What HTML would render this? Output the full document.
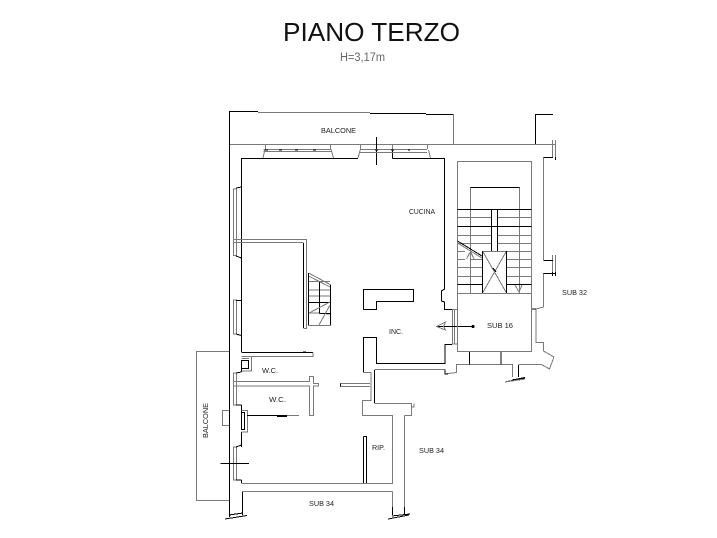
<!DOCTYPE html>
<html><head><meta charset="utf-8"><style>
html,body{margin:0;padding:0;background:#fff;width:717px;height:538px;overflow:hidden}
svg{display:block}
.g{stroke:#7a7a7a;stroke-width:1;fill:none}
.k{stroke:#000;stroke-width:1;fill:none}
text{font-family:"Liberation Sans",sans-serif;fill:#222;font-size:7.5px}
</style></head><body>
<svg width="717" height="538" viewBox="0 0 717 538" xmlns="http://www.w3.org/2000/svg" shape-rendering="crispEdges">
<text x="283" y="41" style="font-size:25.5px;fill:#111" textLength="177" lengthAdjust="spacingAndGlyphs">PIANO TERZO</text>
<text x="340" y="61" style="font-size:11.5px;fill:#666" textLength="45" lengthAdjust="spacingAndGlyphs">H=3,17m</text>
<text x="321" y="133" textLength="35" lengthAdjust="spacingAndGlyphs">BALCONE</text>
<text x="409" y="214" textLength="26" lengthAdjust="spacingAndGlyphs">CUCINA</text>
<text x="562" y="295" textLength="25" lengthAdjust="spacingAndGlyphs">SUB 32</text>
<text x="487" y="328" textLength="26" lengthAdjust="spacingAndGlyphs">SUB 16</text>
<text x="389" y="334" textLength="14" lengthAdjust="spacingAndGlyphs">INC.</text>
<text x="262" y="373" textLength="16" lengthAdjust="spacingAndGlyphs">W.C.</text>
<text x="269" y="402" textLength="17" lengthAdjust="spacingAndGlyphs">W.C.</text>
<text x="372" y="450" textLength="13" lengthAdjust="spacingAndGlyphs">RIP.</text>
<text x="419" y="453" textLength="25" lengthAdjust="spacingAndGlyphs">SUB 34</text>
<text x="309" y="506" textLength="25" lengthAdjust="spacingAndGlyphs">SUB 34</text>
<text transform="translate(208,438) rotate(-90)" textLength="35" lengthAdjust="spacingAndGlyphs">BALCONE</text>

<!-- top balcony -->
<path class="k" d="M229.5 144V111.5H258M370 113.5H426M426 114.5H453.5"/>
<path class="g" d="M258 112.5H370M453.5 114V144M229.5 144.5H555.5"/>
<path class="k" d="M535.5 144V114.5H553"/>
<!-- main black walls -->
<path class="k" d="M229.5 144V517M241.5 158V352M241.5 360V372M241.5 405V412M241.5 432V447M241.5 480V483"/>
<path class="k" d="M241.5 158.5H358M392.5 158.5H444.5V289L441.5 291V301L444.5 302V309.5H452"/>
<path class="k" d="M392.5 149V158.5M376.5 137V165"/>
<!-- top windows -->
<path class="g" d="M265.5 144V149M330.5 144V149M360.5 144V149M427.5 144V149M392.5 144V149"/>
<path class="g" d="M263.5 149.5H331M263.5 151.5H331M360 149.5H427M360 152.5H427M263 158L265 149M333.5 158L331 149M358 158L360.5 149M430.5 158L428.5 150"/>
<path class="k" d="M265 150H268M279 150H282M295 150H298M313 150H316M375 150H378M391 150H394M408 150H410"/>
<!-- left windows -->
<path class="g" d="M233.5 189H236.5V255.5H233.5ZM233.5 300H236.5V334H233.5ZM233.5 373H236.5V405H233.5ZM233.5 447H236.5V480H233.5Z"/>
<path class="k" d="M236 188L241.5 187M236 256L241.5 258M236 300.5H241.5M236 334L241.5 335.5M236 373L241.5 372M236 405H241.5M236 447L241.5 445M236 480H241.5"/>
<!-- kitchen partition -->
<path class="g" d="M234 239.5H306.5V328.5H303.5M234 242.5H303.5"/>
<path class="k" d="M303.5 243V328"/>
<!-- small stair -->
<path class="g" d="M308.5 273L331 285M308.5 276L330 287M309 281.5H330M309 290H330M309 296H330M309 313H320M326 314H330M309 325.5H330"/>
<path class="k" d="M308.5 273V325.5M319.5 282V313.5M330.5 285V325.5M319.5 313.5H330.5M309 302.5H330.5"/>
<path class="g" d="M309 313L330 302M319 325L330 305"/>
<!-- island -->
<path class="k" d="M363.5 289.5H413.5V301.5H376.5V309.5H363.5Z"/>
<!-- inner door walls -->
<path class="k" d="M452 344.5H445V363.5H376.5V337.5H363.5V372.5"/>
<path class="g" d="M363.5 372.5H371V400.5H362.5V415.5H392.5V483.5H241.5"/>
<path class="k" d="M374.5 370V403"/>
<path class="g" d="M374.5 369.5H445M445 369.5V374L456.5 372.5V364.5H512.5V377M518.5 364.5H541.5L549.5 369L554 357L543.5 351V342.5H536V309L543.5 307V273"/>
<path class="k" d="M518.5 365V377M445 369.5V374H448M469.5 351.5V364.5M501 351.5V364.5M536 309H532M512 380L525 377.5M505 382L525 378"/>
<path class="g" d="M505 382L525 379"/>
<path class="g" d="M374.5 403.5H411.5V407H414V403.5M404.5 415.5H411.5V407M404.5 415.5V515M392.5 415.5V483M392.5 491.5V515"/>
<path class="g" d="M243 491.5H392.5"/>
<path class="k" d="M242.5 491.5V515M392.5 507V515M404.5 507V515"/>
<path class="k" d="M225 519L247 515.5M229 515L243 513M388 519L409 515M392 516L410 514"/>
<!-- door to stair -->
<path class="g" d="M452.5 309.5H457.5V344H452.5ZM454.5 309.5V344"/>
<path class="k" d="M436.5 326.5H473"/>
<path class="g" d="M436.5 326.5L445.5 322L443.5 326.5L445.5 330Z"/>
<circle cx="473" cy="326.5" r="1.5" fill="#000"/>
<!-- stair block -->
<path class="g" d="M457.5 161.5H531.5V351.5H457.5Z"/>
<path class="g" d="M470.5 187V293M519.5 187V293"/>
<path class="k" d="M470.5 187.5H519.5M457.5 209.5H531.5M457.5 226.5H531.5M457.5 284.5H482M506 284.5H531.5"/>
<path class="g" d="M457.5 217.5H491M497 217.5H531.5M457.5 235.5H491M497 235.5H531.5M457.5 243.5H491M497 243.5H531.5M497 251.5H531.5M457.5 251.5H465M470 259.5H482M507 259.5H531.5M457.5 267.5H482M507 267.5H531.5M457.5 276.5H482M507 276.5H531.5M457.5 293.5H531.5M457.5 259.5H465"/>
<path class="k" d="M491.5 209V251M497.5 209V251"/>
<path class="g" d="M482.5 251.5H506.5M482.5 293L506.5 251M482.5 251L506.5 293"/>
<path class="k" d="M482.5 251V293M506.5 251V293"/>
<path class="k" d="M457.5 241L482 256"/>
<path class="g" d="M457.5 243L482 258M466.5 259L470.5 251.5L474 259M515 285L519 292L522 285"/>
<path class="k" d="M493 268L496 272"/>
<!-- right side -->
<path class="g" d="M543.5 157.5V260M552.5 140V158M555.5 140V158M552.5 255V272M555.5 255V272"/>
<path class="k" d="M543.5 157.5H553M555.5 157V160M543.5 260.5H553M543.5 273.5H556M552.5 272V276M555.5 272V276"/>
<!-- WC area -->
<path class="k" d="M241.5 352.5H313"/>
<path class="g" d="M241.5 356.5H313V352.5M241.5 358.5H249M251.5 357V371H242M303 351.5H306"/>
<path class="k" d="M241.5 360.5H248.5V368.5H241.5Z"/>
<path class="g" d="M234 381.5H309.5V376.5H313.5V383.5H318.5V386H313.5V415.5H309.5V386H234"/>
<path class="g" d="M340 383.5H370M340 386.5H370"/>
<path class="k" d="M340.5 383.5V386.5"/>
<path class="g" d="M241.5 410.5H247.5V432H241.5"/>
<path class="k" d="M241.5 412.5H244.5V429.5H241.5Z"/>
<path class="k" d="M247 415.5H287"/>
<path class="g" d="M287 415.5H299"/>
<path class="k" d="M277 416.5H287"/>
<path class="k" d="M220.5 463.5H249"/>
<path class="k" d="M363.5 436.5H366.5V483M363.5 436.5V483"/>
<!-- left balcony -->
<path class="g" d="M229 351.5H196.5V500.5H229M229 410.5H222.5V425.5H229"/>
</svg>
</body></html>
